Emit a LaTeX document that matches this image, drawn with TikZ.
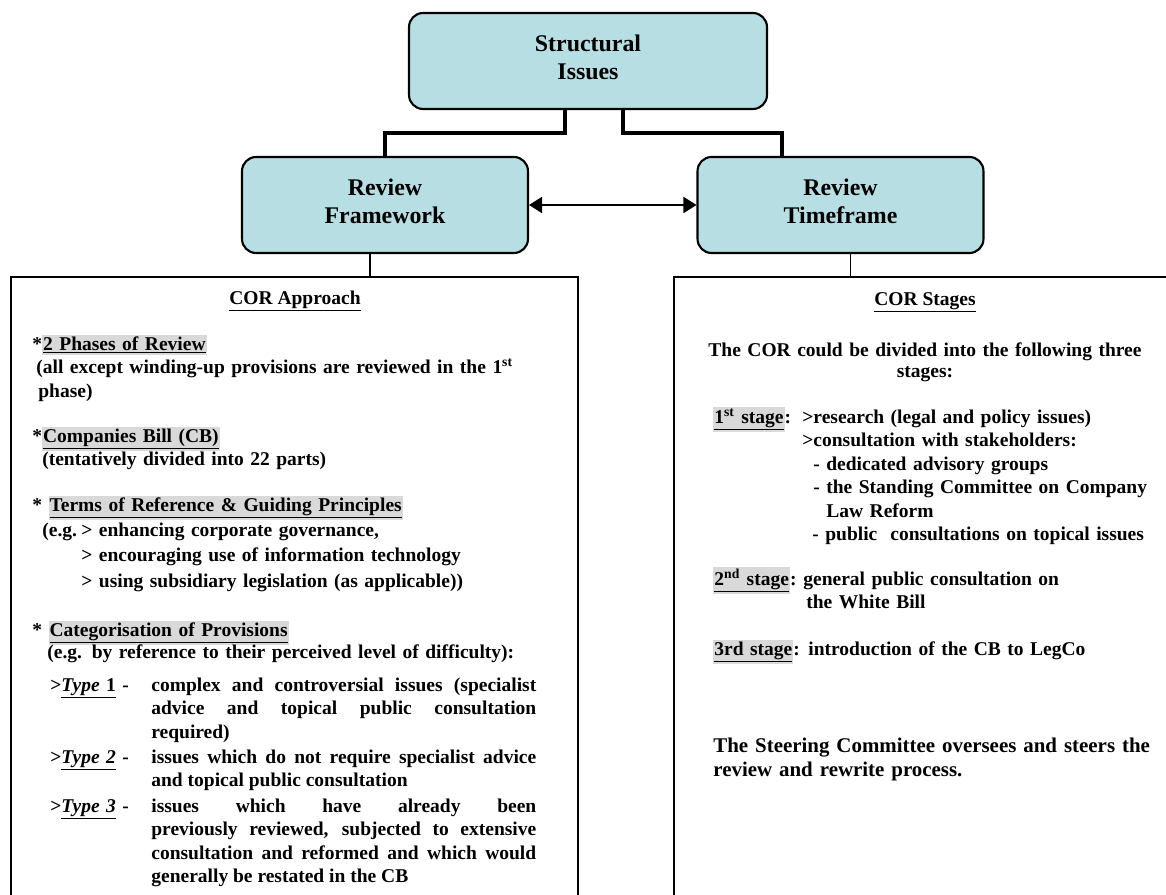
\documentclass[tikz,border=0pt]{standalone}
\usepackage{fontspec}
\setmainfont{Liberation Serif}
\usetikzlibrary{arrows.meta}

\definecolor{boxcyan}{RGB}{183,223,227}
\definecolor{hlgrey}{RGB}{217,217,217}
\newcommand\corfont{\fontsize{11.1}{13.4}\selectfont\bfseries}
\newcommand\hlu[1]{{\fboxsep=0.6pt\colorbox{hlgrey}{\underline{#1}}}}
\newcommand\liftup{\rule[-0.16cm]{0pt}{0pt}}

\begin{document}
\begin{tikzpicture}[x=0.02cm, y=-0.02cm,
    box/.style={draw, line width=1.2pt, rounded corners=0.28cm, fill=boxcyan,
      align=center, font=\fontsize{13.6}{15.9}\selectfont\bfseries},
    panel/.style={draw, line width=1.1pt, anchor=north west, inner sep=0pt,
      minimum height=14cm, minimum width=#1},
    body/.style={anchor=base west, inner sep=0pt, text width=#1, align=left, font=\corfont},
    elbow/.style={line width=2.8pt},
    link/.style={line width=0.6pt},
    >={Triangle[length=0.26cm,width=0.32cm]}]
  \useasboundingbox (0,0) rectangle (1166,895);
  \clip (0,0) rectangle (1166,895);

  % top of the tree
  \node[box, minimum width=7.16cm, minimum height=1.92cm] (struct) at (588,61) {Structural\\Issues\liftup};
  \node[box, minimum width=5.72cm, minimum height=1.92cm] (rf) at (385,205) {Review\\Framework\liftup};
  \node[box, minimum width=5.72cm, minimum height=1.92cm] (rt) at (840.5,205) {Review\\Timeframe\liftup};
  \draw[elbow] ([xshift=-0.46cm]struct.south) -- ++(0,-0.46cm) -| (rf.north);
  \draw[elbow] ([xshift=0.7cm]struct.south) -- ++(0,-0.46cm) -| ([xshift=-1.17cm]rt.north);
  \draw[line width=1.1pt,<->] (rf.east) -- (rt.west);

  % the two panels, cut off at the page edge
  \node[panel=11.34cm] (panelL) at (10,276) {};
  \node[panel=11cm] (panelR) at (673,276) {};
  \draw[link] ([xshift=-0.3cm]rf.south) -- ([xshift=-0.3cm]rf.south |- panelL.north);
  \draw[link] ([xshift=0.2cm]rt.south) -- ([xshift=0.2cm]rt.south |- panelR.north);

  % COR approach
  \node[font=\corfont, anchor=base, inner sep=0pt] (apphead) at (295,304) {\underline{COR Approach}};
  \node[body=10.5cm] (phases) at (32,350)
    {*\hlu{2 Phases of Review}\\
     \hspace*{0.08cm}(all except winding-up provisions are reviewed in the 1\textsuperscript{st}\\
     \hspace*{0.12cm}phase)};
  \node[body=10.5cm] (bill) at (32,442)
    {*\hlu{Companies Bill (CB)}\\
     \hspace*{0.2cm}(tentatively divided into 22 parts)};
  \node[body=10.5cm] (terms) at (32,511)
    {* \hlu{Terms of Reference \& Guiding Principles}\\[1.1pt]
     \hspace*{0.2cm}\makebox[0.78cm][l]{(e.g.}> enhancing corporate governance,\\[1.1pt]
     \hspace*{0.98cm}> encouraging use of information technology\\[1.1pt]
     \hspace*{0.98cm}> using subsidiary legislation (as applicable))};
  \node[body=10.5cm] (categ) at (32,636)
    {* \hlu{Categorisation of Provisions}\\[-0.8pt]
     \hspace*{0.3cm}(e.g. by reference to their perceived level of difficulty):};
  \foreach \i/\lbl/\yy/\txt in {
      1/{\textit{Type} 1}/691/{complex and controversial issues (specialist\linebreak
        advice and topical public consultation\linebreak required)},
      2/{\textit{Type 2}}/763/{issues which do not require specialist advice\linebreak
        and topical public consultation},
      3/{\textit{Type 3}}/812/{issues which have already been\linebreak
        previously reviewed, subjected to extensive\linebreak
        consultation and reformed and which would\linebreak
        generally be restated in the CB}} {
    \node[body=1.9cm] (type\i) at (50,\yy) {>\underline{\lbl} -};
    \node[body=7.7cm, align=justify] (typetxt\i) at (151,\yy) {\txt};
  }

  % COR stages
  \node[font=\corfont, anchor=base, inner sep=0pt] (stghead) at (925,305) {\underline{COR Stages}};
  \node[body=9.2cm, anchor=base, align=center, font=\fontsize{11.1}{12.5}\selectfont\bfseries]
    (intro) at (925,356) {The COR could be divided into the following three\\stages:};
  \foreach \i/\lbl/\yy/\bx/\txt in {
      1/{1\textsuperscript{st} stage}/423/802/{>research (legal and policy issues)\\
        >consultation with stakeholders:\\
        \hspace*{0.22cm}- dedicated advisory groups\\
        \hspace*{0.22cm}- the Standing Committee on Company\\
        \hspace*{0.48cm}Law Reform\\
        \hspace*{0.2cm}- public\ \ consultations on topical issues},
      2/{2\textsuperscript{nd} stage}/585/803/{general public consultation on\\
        \hspace*{0.06cm}the White Bill},
      3/{3rd stage}/655/808/{introduction of the CB to LegCo}} {
    \node[body=2cm] (stage\i) at (713,\yy) {\hlu{\lbl}:};
    \node[body=7.2cm] (stagetxt\i) at (\bx,\yy) {\txt};
  }
  \node[body=9.5cm, font=\fontsize{11.9}{13.7}\selectfont\bfseries] (steer) at (713,752)
    {The Steering Committee oversees and steers the\\review and rewrite process.};
\end{tikzpicture}
\end{document}
